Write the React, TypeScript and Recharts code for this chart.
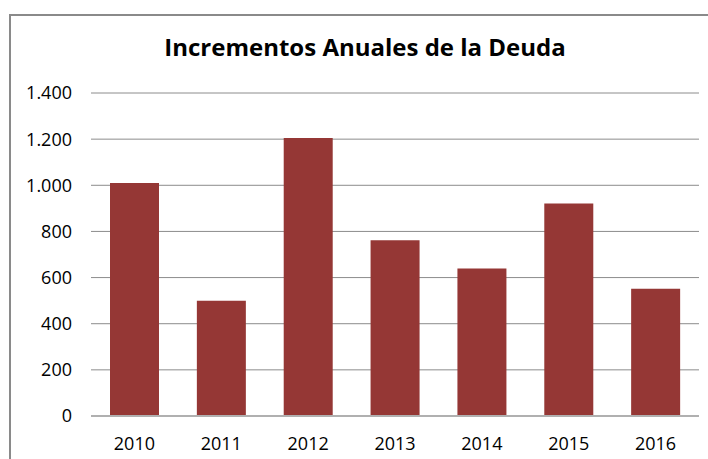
import { BarChart, Bar, XAxis, YAxis, CartesianGrid } from 'recharts'

const years = ['2010', '2011', '2012', '2013', '2014', '2015', '2016']
const increments = [1010, 500, 1205, 762, 639, 921, 552]
const yTicks = [0, 200, 400, 600, 800, 1000, 1200, 1400]

const data = years.map((year, i) => ({ year, value: increments[i] }))

const fmt = (v: number) => v.toLocaleString('de-DE')

export default function App() {
  return (
    <div style={{ position: 'absolute', left: 0, top: 0, width: 708, height: 459, background: '#fff', overflow: 'hidden', fontFamily: '"Open Sans", sans-serif' }}>
      <div style={{ position: 'absolute', left: 9, top: 14, width: 720, height: 480, borderLeft: '2px solid #8a8a8a', borderTop: '2px solid #8a8a8a' }} />
      <div style={{ position: 'absolute', left: 0, width: 730, top: 30, textAlign: 'center', fontSize: 24, fontWeight: 700, color: '#000' }}>
        Incrementos Anuales de la Deuda
      </div>
      <BarChart width={708} height={459} data={data} margin={{ top: 93, right: 9, bottom: 13, left: 0 }} style={{ position: 'absolute', left: 0, top: 0 }}>
        <CartesianGrid vertical={false} stroke="#8c8c8c" strokeWidth={1} />
        <XAxis dataKey="year" height={30} axisLine={{ stroke: '#b0b0b0', strokeWidth: 2 }} tickLine={false} tickSize={0} tickMargin={21}
          tick={{ fill: '#000', fontSize: 18, fontFamily: '"Open Sans", sans-serif' }} />
        <YAxis width={91} domain={[0, 1400]} ticks={yTicks} tickFormatter={fmt} axisLine={false} tickLine={false} tickSize={0} tickMargin={19}
          tick={{ fill: '#000', fontSize: 18, fontFamily: '"Open Sans", sans-serif' }} />
        <Bar dataKey="value" fill="#953735" barSize={49} isAnimationActive={false} />
      </BarChart>
    </div>
  )
}
